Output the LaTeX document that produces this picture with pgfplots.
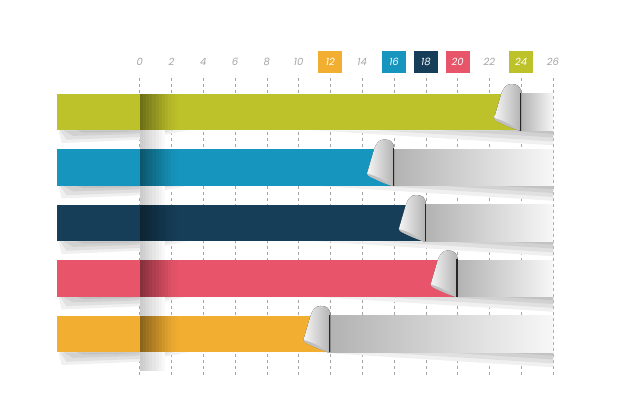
\documentclass[border=0pt]{standalone}
\usepackage{pgfplots}
\pgfplotsset{compat=1.18}
\usepackage{fontspec}
\setmainfont{Poppins}
\definecolor{cgreen}{RGB}{190,194,42}
\definecolor{cblue}{RGB}{22,150,190}
\definecolor{cnavy}{RGB}{22,62,88}
\definecolor{cred}{RGB}{232,84,106}
\definecolor{corange}{RGB}{242,174,48}
\definecolor{labgray}{RGB}{165,165,165}
\setlength{\fboxsep}{0pt}
\newcommand\tbox[3]{\colorbox{#1}{\parbox[c][22pt][c]{24pt}{\centering\fontsize{10}{12}\selectfont\itshape\textcolor{#3}{#2}}}}
\newcommand\pl[1]{\tbox{white}{#1}{labgray}}
\newcommand\cl[2]{\tbox{#1}{#2}{white}}
% strip helper: x0, x1, y0, y1, colour
\newcommand\st[5]{\fill[#5] (axis cs:#1,#3) rectangle (axis cs:#2,#4);}
% fold darkening on the coloured strip: y, colour
\newcommand\fold[2]{%
  \st{0}{0.2}{#1-0.33}{#1+0.33}{#2!58!black}%
  \st{0.2}{0.4}{#1-0.33}{#1+0.33}{#2!62!black}%
  \st{0.4}{0.6}{#1-0.33}{#1+0.33}{#2!66!black}%
  \st{0.6}{0.8}{#1-0.33}{#1+0.33}{#2!70!black}%
  \st{0.8}{1.0}{#1-0.33}{#1+0.33}{#2!74!black}%
  \st{1.0}{1.2}{#1-0.33}{#1+0.33}{#2!78!black}%
  \st{1.2}{1.4}{#1-0.33}{#1+0.33}{#2!82!black}%
  \st{1.4}{1.6}{#1-0.33}{#1+0.33}{#2!86!black}%
  \st{1.6}{1.8}{#1-0.33}{#1+0.33}{#2!90!black}%
  \st{1.8}{2.0}{#1-0.33}{#1+0.33}{#2!93!black}%
  \st{2.0}{2.2}{#1-0.33}{#1+0.33}{#2!96!black}%
  \st{2.2}{2.4}{#1-0.33}{#1+0.33}{#2!98!black}%
}
% fold shadow in the gap below a strip: y
\newcommand\gapfold[1]{%
  \st{0}{0.2}{#1-0.67}{#1-0.33}{gray!40}%
  \st{0.2}{0.4}{#1-0.67}{#1-0.33}{gray!35}%
  \st{0.4}{0.6}{#1-0.67}{#1-0.33}{gray!30}%
  \st{0.6}{0.8}{#1-0.67}{#1-0.33}{gray!25}%
  \st{0.8}{1.0}{#1-0.67}{#1-0.33}{gray!20}%
  \st{1.0}{1.2}{#1-0.67}{#1-0.33}{gray!15}%
  \st{1.2}{1.4}{#1-0.67}{#1-0.33}{gray!10}%
  \st{1.4}{1.6}{#1-0.67}{#1-0.33}{gray!5}%
}
% #1 = row y, #2 = value, #3 = colour
\newcommand\onebar[3]{%
  % shadows under the strip (layered)
  \fill[gray!12] (axis cs:-5.1,#1-0.33) -- (axis cs:3,#1-0.33) -- (axis cs:0,#1-0.50) -- (axis cs:-4.9,#1-0.56) -- cycle;
  \fill[gray!24] (axis cs:-5.0,#1-0.33) -- (axis cs:2.2,#1-0.33) -- (axis cs:0,#1-0.45) -- (axis cs:-4.6,#1-0.50) -- cycle;
  \fill[gray!36] (axis cs:-4.8,#1-0.33) -- (axis cs:1.4,#1-0.33) -- (axis cs:-0.5,#1-0.40) -- (axis cs:-4.2,#1-0.43) -- cycle;
  \fill[gray!48] (axis cs:-4.0,#1-0.33) -- (axis cs:0.6,#1-0.33) -- (axis cs:-1.0,#1-0.36) -- (axis cs:-3.5,#1-0.37) -- cycle;
  \fill[gray!12] (axis cs:11,#1-0.33) -- (axis cs:26,#1-0.33) -- (axis cs:26,#1-0.60) -- cycle;
  \fill[gray!24] (axis cs:15,#1-0.33) -- (axis cs:26,#1-0.33) -- (axis cs:26,#1-0.53) -- cycle;
  \fill[gray!36] (axis cs:19,#1-0.33) -- (axis cs:26,#1-0.33) -- (axis cs:26,#1-0.46) -- cycle;
  \fill[gray!48] (axis cs:22.5,#1-0.33) -- (axis cs:26,#1-0.33) -- (axis cs:26,#1-0.39) -- cycle;
  \gapfold{#1}
  % grey remainder up to 26
  \addplot[draw=none, mark=none, left color=gray!60, right color=gray!6]
    coordinates {(#2,#1-0.33) (26,#1-0.33) (26,#1+0.33) (#2,#1+0.33)} --cycle;
  % coloured strip
  \addplot[draw=none, mark=none, fill=#3]
    coordinates {(-5.2,#1-0.33) (#2,#1-0.33) (#2,#1+0.33) (-5.2,#1+0.33)} --cycle;
  \fold{#1}{#3}
  % curl
  \begin{scope}[shift={(axis cs:#2,#1)}]
    \fill[left color=gray!8, right color=gray!60]
      (0pt,-18.5pt) -- (0pt,18pt) .. controls (0pt,26pt) and (-4pt,28pt) .. (-10pt,28pt)
      .. controls (-15pt,28pt) and (-18pt,24pt) .. (-20pt,18pt)
      -- (-27pt,-6pt)
      .. controls (-26pt,-9pt) and (-22pt,-10pt) .. (-18pt,-12pt)
      .. controls (-12pt,-15pt) and (-6pt,-17pt) .. (-2pt,-18.5pt) -- cycle;
    \fill[gray!50] (-27pt,-6pt) .. controls (-26pt,-9pt) and (-22pt,-10pt) .. (-18pt,-12pt)
      .. controls (-12pt,-15pt) and (-6pt,-17pt) .. (-2pt,-18.5pt)
      .. controls (-8pt,-14pt) and (-16pt,-9pt) .. (-27pt,-6pt) -- cycle;
    \draw[gray!30!black, line width=1.1pt] (-0.6pt,-18.5pt) -- (-0.6pt,19pt);
  \end{scope}
}
\begin{document}
\begin{tikzpicture}
\begin{axis}[name=ax, scale only axis, width=496pt, height=300pt,
  xmin=-5.2, xmax=26, ymin=0.26, ymax=5.667,
  axis line style={draw=none}, ytick=\empty,
  xtick={0,2,...,26},
  xticklabels={\pl{0},\pl{2},\pl{4},\pl{6},\pl{8},\pl{10},\cl{corange}{12},\pl{14},\cl{cblue}{16},\cl{cnavy}{18},\cl{cred}{20},\pl{22},\cl{cgreen}{24},\pl{26}},
  xticklabel pos=upper, major tick length=0pt,
  xmajorgrids, grid style={dash pattern=on 3pt off 3pt, labgray, line width=0.5pt},
  xticklabel style={inner sep=0pt, yshift=2pt},
  clip=false]
\onebar{5}{24}{cgreen}
\onebar{4}{16}{cblue}
\onebar{3}{18}{cnavy}
\onebar{2}{20}{cred}
\onebar{1}{12}{corange}
\end{axis}
\path ([shift={(-57pt,-33pt)}]ax.south west) rectangle ([shift={(73pt,75pt)}]ax.north east);
\end{tikzpicture}
\end{document}
